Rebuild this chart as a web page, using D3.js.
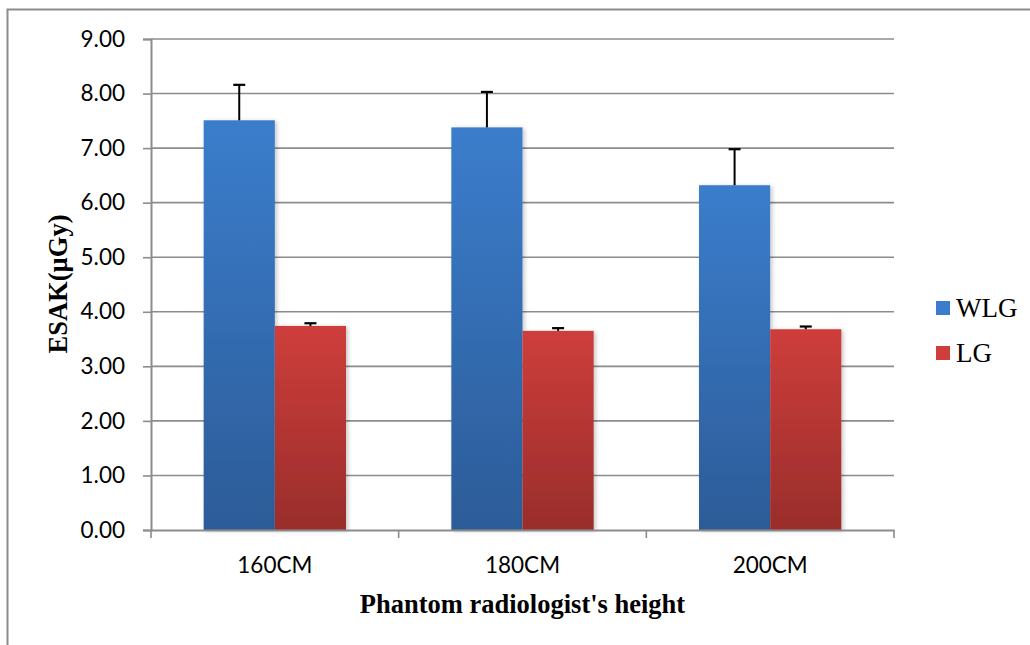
<!DOCTYPE html>
<html>
<head>
<meta charset="utf-8">
<script src="https://cdn.jsdelivr.net/npm/d3@7"></script>
<style>
  body { margin: 0; background: #fff; }
</style>
</head>
<body>
<div id="chart"></div>
<script>
const width = 1030;
const height = 645;

// data
const categories = ["160CM", "180CM", "200CM"];
const seriesNames = ["WLG", "LG"];
const wlgValues = [7.51, 7.38, 6.32];
const wlgErrors = [0.65, 0.65, 0.66];
const lgValues = [3.74, 3.65, 3.68];
const lgErrors = [0.05, 0.05, 0.05];
const yTicks = [0, 1, 2, 3, 4, 5, 6, 7, 8, 9];

const margin = {left: 151, right: 136, top: 39, bottom: 115};

const svg = d3.select('#chart')
    .append('svg')
    .attr('width', width)
    .attr('height', height);

// outer frame (only top and left edges show in the picture)
svg.append('path')
    .attr('d', `M7.5,${height} V9.5 H${width}`)
    .attr('fill', 'none')
    .attr('stroke', '#8c8c8c')
    .attr('stroke-width', 2);

const defs = svg.append('defs');
const gradients = [
    {id: 'gradBlue', top: '#3b7dcc', bottom: '#2c5c98'},
    {id: 'gradRed', top: '#ce3e3b', bottom: '#992d2b'}
];
gradients.forEach(g => {
    const lg = defs.append('linearGradient')
        .attr('id', g.id)
        .attr('x1', 0).attr('y1', 0).attr('x2', 0).attr('y2', 1);
    lg.append('stop').attr('offset', '0%').attr('stop-color', g.top);
    lg.append('stop').attr('offset', '100%').attr('stop-color', g.bottom);
});
const shadow = defs.append('filter').attr('id', 'shadow')
    .attr('x', '-10%').attr('y', '-10%').attr('width', '130%').attr('height', '120%');
shadow.append('feDropShadow')
    .attr('dx', 2).attr('dy', 1).attr('stdDeviation', 2)
    .attr('flood-color', '#000').attr('flood-opacity', 0.22);

const x = d3.scaleBand()
    .domain(categories)
    .range([margin.left, width - margin.right])
    .paddingInner(0)
    .paddingOuter(0);

const x1 = d3.scaleBand()
    .domain(seriesNames)
    .range([0, x.bandwidth()])
    .paddingOuter(0.74);

const y = d3.scaleLinear()
    .domain([0, 9])
    .range([height - margin.bottom, margin.top]);

// gridlines
svg.append('g')
    .selectAll('line')
    .data(yTicks.slice(1))
    .enter().append('line')
    .attr('x1', margin.left)
    .attr('x2', width - margin.right)
    .attr('y1', d => y(d))
    .attr('y2', d => y(d))
    .attr('stroke', '#8c8c8c')
    .attr('stroke-width', 1.6);

// y axis
const yAxis = svg.append('g')
    .attr('transform', `translate(${margin.left},0)`)
    .call(d3.axisLeft(y).tickValues(yTicks).tickFormat(d3.format('.2f')).tickSize(8).tickPadding(18));
yAxis.select('.domain').attr('stroke', '#8c8c8c').attr('stroke-width', 2);
yAxis.selectAll('.tick line').attr('stroke', '#8c8c8c').attr('stroke-width', 1.6);
yAxis.selectAll('text')
    .attr('font-family', 'Lato, sans-serif')
    .attr('font-size', 22.5)
    .attr('fill', '#000');

const rows = categories.map((c, i) => ({
    cat: c,
    bars: [
        {name: 'WLG', value: wlgValues[i], err: wlgErrors[i], fill: 'url(#gradBlue)'},
        {name: 'LG', value: lgValues[i], err: lgErrors[i], fill: 'url(#gradRed)'}
    ]
}));

const group = svg.selectAll('.group')
    .data(rows)
    .enter().append('g')
    .attr('class', 'group')
    .attr('transform', d => `translate(${x(d.cat)},0)`);

group.selectAll('rect')
    .data(d => d.bars)
    .enter().append('rect')
    .attr('x', d => x1(d.name))
    .attr('width', x1.bandwidth())
    .attr('y', d => y(d.value))
    .attr('height', d => y(0) - y(d.value))
    .attr('fill', d => d.fill)
    .attr('filter', 'url(#shadow)');

// error bars (upper only)
const err = group.selectAll('.err')
    .data(d => d.bars)
    .enter().append('g')
    .attr('class', 'err');
err.append('line')
    .attr('x1', d => x1(d.name) + x1.bandwidth() / 2)
    .attr('x2', d => x1(d.name) + x1.bandwidth() / 2)
    .attr('y1', d => y(d.value))
    .attr('y2', d => y(d.value + d.err))
    .attr('stroke', '#000')
    .attr('stroke-width', 2);
err.append('line')
    .attr('x1', d => x1(d.name) + x1.bandwidth() / 2 - 6)
    .attr('x2', d => x1(d.name) + x1.bandwidth() / 2 + 6)
    .attr('y1', d => y(d.value + d.err))
    .attr('y2', d => y(d.value + d.err))
    .attr('stroke', '#000')
    .attr('stroke-width', 2.2);

// x axis
const xAxis = svg.append('g')
    .attr('transform', `translate(0,${y(0)})`)
    .call(d3.axisBottom(x).tickSize(0).tickPadding(27));
xAxis.select('.domain').attr('stroke', '#8c8c8c').attr('stroke-width', 2);
xAxis.selectAll('text')
    .attr('font-family', 'Lato, sans-serif')
    .attr('font-size', 22.5)
    .attr('fill', '#000');
// category boundary ticks
svg.append('g')
    .selectAll('line')
    .data(categories.map(c => x(c)).concat([x.range()[1]]))
    .enter().append('line')
    .attr('x1', d => d).attr('x2', d => d)
    .attr('y1', y(0)).attr('y2', y(0) + 8)
    .attr('stroke', '#8c8c8c')
    .attr('stroke-width', 1.6);

// axis titles
svg.append('text')
    .attr('x', (margin.left + width - margin.right) / 2)
    .attr('y', 613)
    .attr('text-anchor', 'middle')
    .attr('font-family', '"Liberation Serif", "Times New Roman", serif')
    .attr('font-weight', 'bold')
    .attr('font-size', 26.5)
    .text("Phantom radiologist's height");

svg.append('text')
    .attr('transform', `translate(67,284) rotate(-90)`)
    .attr('text-anchor', 'middle')
    .attr('font-family', '"Liberation Serif", "Times New Roman", serif')
    .attr('font-weight', 'bold')
    .attr('font-size', 26.5)
    .text('ESAK(µGy)');

// legend
const legend = svg.append('g')
    .selectAll('g')
    .data(seriesNames)
    .enter().append('g')
    .attr('transform', (d, i) => `translate(936,${301 + i * 45})`);
legend.append('rect')
    .attr('width', 14).attr('height', 14)
    .attr('fill', (d, i) => gradients[i].top);
legend.append('text')
    .attr('x', 20)
    .attr('y', 16)
    .attr('font-family', '"Liberation Serif", "Times New Roman", serif')
    .attr('font-size', 27)
    .text(d => d);
</script>
</body>
</html>
